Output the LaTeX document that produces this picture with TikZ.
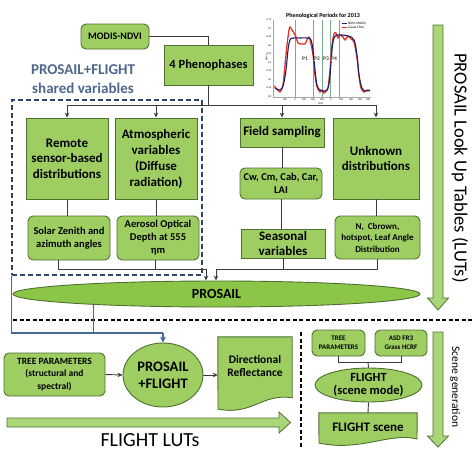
\documentclass[tikz,border=0pt]{standalone}
\usepackage{fontspec}
\setmainfont{Carlito}
\usetikzlibrary{shapes.geometric,arrows.meta,calc}
\definecolor{boxfill}{RGB}{158,206,98}
\definecolor{boxdraw}{RGB}{78,112,48}
\definecolor{ellfill}{RGB}{140,198,72}
\definecolor{arrfill}{RGB}{170,213,120}
\definecolor{navy}{RGB}{44,70,108}
\definecolor{steel}{RGB}{78,104,138}
\definecolor{bline}{RGB}{72,104,150}
\definecolor{connc}{RGB}{60,60,60}
\definecolor{periodc}{RGB}{120,170,140}
\definecolor{redc}{RGB}{225,50,40}
\definecolor{bluec}{RGB}{30,30,110}
\newcommand\fsz[2]{\fontsize{#1}{#2}\selectfont}
\begin{document}
\begin{tikzpicture}[x=1pt,y=-1pt,
 box/.style={draw=boxdraw,fill=boxfill,line width=0.9pt,inner sep=1pt,align=center},
 rbox/.style={box,rounded corners=5pt},
 ell/.style={draw=boxdraw,fill=ellfill,ellipse,line width=0.9pt,inner sep=0pt,align=center},
 ln/.style={draw=connc,line width=0.9pt},
 arr/.style={ln,-{Stealth[length=5pt,width=4.5pt]}},
 bln/.style={draw=bline,line width=1.1pt},
 barr/.style={bln,-{Stealth[length=6pt,width=6pt]}},
 bigarr/.style={draw=boxdraw,fill=arrfill,line width=0.8pt,line join=miter},
 doc/.style={draw=boxdraw,fill=boxfill,line width=0.9pt},
 tiny/.style={font=\fsz{2.6}{3}, inner sep=0pt}
]
\useasboundingbox (0,0) rectangle (474,474);

% ---------- chart ----------
\node[font=\fsz{6}{7}\bfseries,inner sep=0] (ctitle) at (323,16) {Phenological Periods for 2013};
\draw[gray!70,line width=0.3pt] (273,20) -- (273,97) -- (371,97);
\foreach \v/\yy in {0.75/20,0.7/28.5,0.65/37,0.6/45.5,0.55/54,0.5/62.5,0.45/71,0.4/79.5,0.35/88,0.3/96.5}
  \node[tiny,anchor=east] at (271.5,\yy) {\v};
\foreach \v/\xx in {300/285,0/295,100/304,200/313,300/322,0/331,100/341,200/351,300/360,100/368}
  \node[tiny] at (\xx,100) {\v};
\node[tiny] (cdoy) at (321,104) {DOY};
\node[tiny,rotate=90] (cndvi) at (266.5,58) {NDVI};
\foreach \xx in {295,313,322,330,339}
  \draw[periodc,line width=0.8pt] (\xx,20) -- (\xx,97);
\draw[redc,line width=1.3pt] plot[smooth,tension=0.5] coordinates {(274,86) (277,89) (280,92) (283,85) (285,65) (287,45) (289,30) (290,27) (292,30) (294,33) (296,37) (298,43) (302,44) (305,44) (307,40) (309,37) (311,44) (313,55) (315,75) (317,87) (320,92) (322,90) (324,93) (326,91) (328,88) (330,70) (332,45) (334,34) (336,33) (338,38) (340,35) (343,37) (345,40) (348,36) (351,39) (354,42) (357,58) (359,76) (361,88) (364,92) (367,90) (370,91)};
\draw[bluec,line width=1.1pt] plot[smooth,tension=0.6] coordinates {(275,88) (279,90) (283,86) (286,70) (288,50) (290,40) (293,38) (300,38) (308,38) (311,40) (313,50) (315,70) (317,85) (320,90) (325,91) (328,88) (330,75) (332,50) (334,38) (338,35) (348,36) (354,40) (357,55) (359,75) (362,88) (366,91) (370,90)};
\foreach \t/\xx in {P1/305,P2/317,P3/326,P4/334}
  \node[font=\fsz{5.5}{6}\bfseries,text=black!75,inner sep=0.3pt,fill=white,fill opacity=0.6,text opacity=1] at (\xx,59) {\t};
\draw[bluec,line width=0.8pt] (342,23) -- (347,23);
\draw[redc,line width=0.8pt] (342,27) -- (347,27);
\node[font=\fsz{3.4}{4},inner sep=0pt,anchor=west] (leg1) at (348,23) {NDVI-MODIS};
\node[font=\fsz{3.4}{4},inner sep=0pt,anchor=west] (leg2) at (348,27) {Gauss Filter};

% ---------- top ----------
\node[rbox,minimum width=68,minimum height=25,font=\fsz{10}{12}\bfseries] (modis) at (115,36.5) {MODIS-NDVI};
\node[box,minimum width=89,minimum height=40,font=\fsz{12.5}{15}\bfseries] (phen) at (208.5,65) {4 Phenophases};
\draw[ln] (modis.east) -| (phen.north);

\node[text=steel,align=center,font=\fsz{15}{19}\bfseries] (sharedlbl) at (83,79.5) {PROSAIL+FLIGHT\\shared variables};
\node[draw=navy,dash pattern=on 5pt off 3pt,line width=1.3pt,minimum width=190,minimum height=175,inner sep=0] (sharedbox) at (107,187.5) {};

\node[box,minimum width=82,minimum height=81,font=\fsz{13}{15.5}\bfseries] (remote) at (67,158.5) {Remote\\sensor-based\\distributions};
\node[box,minimum width=82,minimum height=81,font=\fsz{13}{16}\bfseries] (atm) at (156,158.5) {Atmospheric\\variables\\(Diffuse\\radiation)};
\node[box,minimum width=84,minimum height=29,font=\fsz{13}{15.5}\bfseries] (field) at (282,132.5) {Field sampling};
\node[box,minimum width=86,minimum height=81,font=\fsz{13}{15.5}\bfseries] (unknown) at (376,158.5) {Unknown\\distributions};

\coordinate (bus) at (0,105);
\draw[ln] (phen.south) -- (phen.south |- bus);
\draw[ln] (remote.north |- bus) -- (unknown.north |- bus);
\foreach \n in {remote,atm,field,unknown}
  \draw[arr] (\n.north |- bus) -- (\n.north);

\node[rbox,minimum width=82,minimum height=44,font=\fsz{10.5}{13}\bfseries] (solar) at (69,238) {Solar Zenith and\\azimuth angles};
\node[rbox,minimum width=82,minimum height=44,font=\fsz{10.5}{13}\bfseries] (aerosol) at (158,238) {Aerosol Optical\\Depth at 555\\ηm};
\node[rbox,minimum width=82,minimum height=31,font=\fsz{10.5}{13}\bfseries] (cw) at (281,183.5) {Cw, Cm, Cab, Car,\\LAI};
\node[box,minimum width=84,minimum height=29,font=\fsz{13}{15.5}\bfseries] (seasonal) at (283,243.5) {Seasonal\\variables};
\node[rbox,minimum width=85,minimum height=43,font=\fsz{9}{11.5}\bfseries] (nbox) at (377.5,237.5) {N,\ \ Cbrown,\\hotspot, Leaf Angle\\Distribution};

\draw[ln] (remote.south) -- (remote.south |- solar.north);
\draw[ln] (atm.south) -- (atm.south |- aerosol.north);
\draw[ln] (field.south) -- (field.south |- cw.north);
\draw[ln] (cw.south) -- (cw.south |- seasonal.north);
\draw[ln] (unknown.south) -- (unknown.south |- nbox.north);

\node[ell,fill=ellfill,minimum width=407,minimum height=26,font=\fsz{14}{16}\bfseries] (prosail) at (216.5,294) {PROSAIL};

\coordinate (pl) at (206,269);
\coordinate (pr) at (216,269);
\draw[ln] ([xshift=-11pt]solar.south) |- (pl);
\draw[ln] ([xshift=-3pt]aerosol.south) |- (pl);
\draw[arr] (pl) -- (pl |- prosail.north);
\draw[ln] (seasonal.south) |- (pr);
\draw[ln] (nbox.south) |- (pr);
\draw[arr] (pr) -- (pr |- prosail.north);

% big right arrow
\draw[bigarr] (433,25) -- (443,25) -- (443,298) -- (448.5,298) -- (438,310) -- (427.5,298) -- (433,298) -- cycle;
\node[rotate=-90,font=\fsz{18.5}{20}] (lutlbl) at (460,168) {PROSAIL Look Up Tables (LUTs)};

% dashed separators
\draw[black,line width=1.1pt,dash pattern=on 4pt off 2.5pt] (13,320) -- (474,320);
\draw[black,line width=1.1pt,dash pattern=on 4pt off 2.5pt] (301,332) -- (301,448);

% ---------- bottom left ----------
\node[rbox,minimum width=101,minimum height=43,font=\fsz{9.5}{12.5}\bfseries] (tree) at (54.5,374.5) {TREE PARAMETERS\\(structural and\\spectral)};
\node[ell,fill=boxfill,minimum width=80,minimum height=64,font=\fsz{14.5}{17}\bfseries] (pf) at (163,375) {PROSAIL\\+FLIGHT};
\node[minimum width=74,minimum height=61,inner sep=0] (dirref) at (255,367.5) {};
\draw[doc] (dirref.north west) -- (dirref.north east) -- ($(dirref.north east)+(0,61)$)
  .. controls (262,393) and (252,416) .. (218,409) -- cycle;
\node[font=\fsz{11.5}{12.5}\bfseries,align=center] (dirtxt) at (255,366) {Directional\\Reflectance};

\coordinate (bj) at (163,333);
\draw[bln] (sharedbox.south west) |- (bj);
\draw[bln] (prosail.185) -- (prosail.185 |- bj);
\draw[barr] (bj) -- (pf.north);
\draw[arr] (tree.east) -- (pf.west);
\draw[arr] (pf.east) -- (pf.east -| dirref.west);

\draw[bigarr] (7,418) -- (279,418) -- (279,412) -- (290.5,422.5) -- (279,433) -- (279,427) -- (7,427) -- cycle;
\node[font=\fsz{20}{22}] (fllbl) at (150,440) {FLIGHT LUTs};

% ---------- bottom right ----------
\node[rbox,minimum width=53,minimum height=26,font=\fsz{7}{9}\bfseries] (tp2) at (338.5,343) {TREE\\PARAMETERS};
\node[rbox,minimum width=52,minimum height=26,font=\fsz{7}{9}\bfseries] (asd) at (401,343) {ASD FR3\\Grass HCRF};
\node[ell,fill=boxfill,minimum width=107,minimum height=34,font=\fsz{12.5}{13}\bfseries] (flight) at (368.5,385) {FLIGHT\\(scene mode)};
\node[minimum width=98,minimum height=26,inner sep=0] (fscene) at (368,426) {};
\draw[doc] (fscene.north west) -- (fscene.north east) -- (417,439)
  .. controls (390,432) and (360,452) .. (319,443) -- cycle;
\node[font=\fsz{13}{15}\bfseries] (fstxt) at (368,427) {FLIGHT scene};

\coordinate (sj) at (368,362);
\draw[ln] (tp2.south) |- (sj);
\draw[ln] (asd.south) |- (sj);
\draw[ln] (sj) -- (flight.north);
\draw[ln] (flight.south) -- (fscene.north);

\draw[bigarr] (433,332) -- (443,332) -- (443,436) -- (448.5,436) -- (438,447) -- (427.5,436) -- (433,436) -- cycle;
\node[rotate=-90,font=\fsz{11.5}{12}] (sglbl) at (455,387) {Scene generation};
\end{tikzpicture}
\end{document}
